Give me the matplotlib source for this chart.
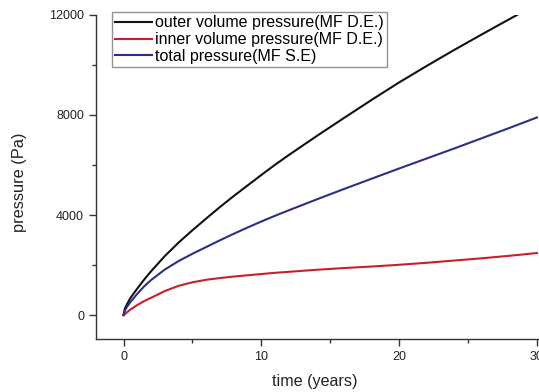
import numpy as np
import matplotlib.pyplot as plt
from matplotlib.ticker import MultipleLocator

plt.rcParams['font.family'] = ['Liberation Sans', 'DejaVu Sans']

# time axis (years)
t = [0, 0.1, 0.25, 0.5, 1, 1.5, 2, 3, 4, 5, 6, 7, 8, 9, 10, 11, 12, 14, 16,
     18, 20, 22, 24, 26, 28, 30]

# pressures (Pa)
outer_de = [0, 260, 430, 680, 1060, 1420, 1750, 2360, 2900, 3390, 3860, 4320,
            4760, 5180, 5600, 6010, 6400, 7150, 7880, 8600, 9300, 9960, 10600,
            11220, 11830, 12430]
inner_de = [0, 40, 110, 220, 400, 560, 690, 960, 1170, 1310, 1410, 1480,
            1540, 1590, 1640, 1690, 1730, 1810, 1880, 1940, 2010, 2090, 2180,
            2270, 2370, 2480]
total_se = [0, 180, 330, 520, 850, 1150, 1400, 1820, 2160, 2450, 2720, 2990,
            3250, 3500, 3740, 3970, 4190, 4620, 5040, 5450, 5860, 6260, 6660,
            7070, 7480, 7900]

labels = ['outer volume pressure(MF D.E.)',
          'inner volume pressure(MF D.E.)',
          'total pressure(MF S.E)']
colors = ['#111111', '#c8202a', '#2d2d8a']

fig = plt.figure(figsize=(5.39, 3.92), dpi=100)
ax = fig.add_axes([0.178, 0.135, 0.822, 0.827])

for vals, lab, col in zip([outer_de, inner_de, total_se], labels, colors):
    ax.plot(t, vals, color=col, lw=1.5, label=lab)

ax.set_xlim(-2, 30.15)
ax.set_ylim(-960, 12000)

ax.xaxis.set_major_locator(MultipleLocator(10))
ax.xaxis.set_minor_locator(MultipleLocator(5))
ax.yaxis.set_major_locator(MultipleLocator(4000))
ax.yaxis.set_minor_locator(MultipleLocator(2000))

for s in ['top', 'right']:
    ax.spines[s].set_visible(False)
for s in ['left', 'bottom']:
    ax.spines[s].set_color('#333333')
    ax.spines[s].set_linewidth(1.0)

ax.tick_params(which='major', direction='out', length=5, width=1, colors='#333333',
               labelsize=9, labelcolor='#222222')
ax.tick_params(which='minor', direction='out', length=3, width=1, colors='#333333')

ax.set_xlabel('time (years)', fontsize=11.6, color='#222222')
ax.set_ylabel('pressure (Pa)', fontsize=11.8, color='#222222')
ax.xaxis.set_label_coords(0.494, -0.108)
ax.yaxis.set_label_coords(-0.155, 0.485)

leg = fig.legend(loc='upper left', bbox_to_anchor=(112 / 539, 1 - 12 / 392),
                 fontsize=11.5, frameon=True, fancybox=False, borderpad=0.2,
                 labelspacing=0.12, handlelength=2.3, handletextpad=0.2,
                 borderaxespad=0)
leg.get_frame().set_edgecolor('#777777')
leg.get_frame().set_linewidth(1.0)

fig.savefig('out.png', dpi=100)
